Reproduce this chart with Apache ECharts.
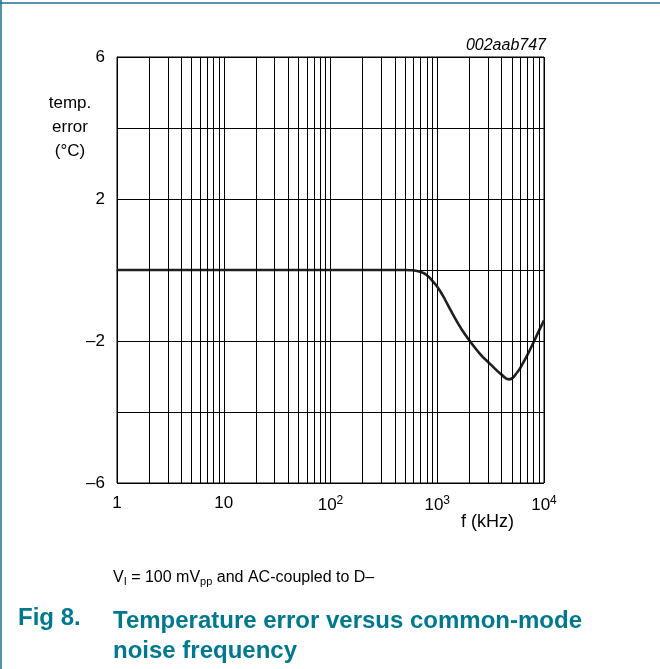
<!DOCTYPE html>
<html>
<head>
<meta charset="utf-8">
<script src="https://cdn.jsdelivr.net/npm/echarts@6/dist/echarts.min.js"></script>
<style>
html,body{margin:0;padding:0;background:#fff;}
#c{width:660px;height:669px;}
</style>
</head>
<body>
<div id="c"></div>
<script>
// Data (frequency in kHz, temperature error in °C)
const freqKHz = [1, 10, 100, 500, 562, 631, 708, 794, 891, 1000, 1122, 1259, 1413, 1585, 1778, 1995, 2512, 3162, 3981, 4700, 5623, 6310, 7079, 7943, 8913, 10000];
const tempErr = [0, 0, 0, 0, -0.005, -0.02, -0.06, -0.14, -0.29, -0.47, -0.71, -0.99, -1.27, -1.53, -1.77, -1.98, -2.36, -2.66, -2.94, -3.08, -2.88, -2.64, -2.36, -2.05, -1.73, -1.42];
const yLabeled = [6, 2, -2, -6];
const xDecades = [1, 10, 100, 1000, 10000];
const xTickLabels = ['1', '10', '10{s|2}', '10{s|3}', '10{s|4}'];
const minorMultipliers = [2, 3, 4, 5, 6, 7, 8, 9];

const FONT = '"Liberation Sans", Arial, sans-serif';
const TEAL = '#00788f';

const minorGrid = [];
for (let d = 0; d < xDecades.length - 1; d++) {
  for (const m of minorMultipliers) minorGrid.push({ xAxis: xDecades[d] * m });
}

const chart = echarts.init(document.getElementById('c'), null, { renderer: 'canvas' });
chart.setOption({
  animation: false,
  backgroundColor: '#fff',
  textStyle: { fontFamily: FONT },
  grid: { left: 117, right: 116, top: 57, bottom: 186, show: true, borderColor: '#000', borderWidth: 1 },
  xAxis: {
    type: 'log', logBase: 10, min: 1, max: 10000,
    axisLine: { show: true, lineStyle: { color: '#000', width: 1 } },
    axisTick: { show: false },
    splitLine: { show: true, lineStyle: { color: '#000', width: 1 } },
    axisLabel: {
      color: '#000', fontSize: 17, fontFamily: FONT, margin: 12,
      formatter: function (v) {
        const i = xDecades.indexOf(Math.round(v));
        return i >= 0 ? xTickLabels[i] : '';
      },
      rich: { s: { fontSize: 12, fontFamily: FONT, color: '#000', verticalAlign: 'top', padding: [0, 0, 9, 0] } }
    }
  },
  yAxis: {
    type: 'value', min: -6, max: 6, interval: 2,
    axisLine: { show: true, lineStyle: { color: '#000', width: 1 } },
    axisTick: { show: false },
    splitLine: { show: true, lineStyle: { color: '#000', width: 1 } },
    axisLabel: {
      color: '#000', fontSize: 17, fontFamily: FONT, margin: 12,
      formatter: function (v) {
        if (yLabeled.indexOf(v) < 0) return '';
        return v < 0 ? '\u2013' + (-v) : String(v);
      }
    }
  },
  series: [{
    type: 'line',
    data: freqKHz.map((f, i) => [f, tempErr[i]]),
    smooth: 0.5,
    showSymbol: false,
    lineStyle: { color: '#231f20', width: 2.6 },
    markLine: {
      silent: true,
      symbol: ['none', 'none'],
      label: { show: false },
      lineStyle: { type: 'solid', color: '#000', width: 1 },
      data: minorGrid
    },
    z: 3
  }],
  graphic: [
    { type: 'line', shape: { x1: 0, y1: 3, x2: 660, y2: 3 }, style: { stroke: '#1b6f8c', lineWidth: 1.5 } },
    { type: 'line', shape: { x1: 1, y1: 0, x2: 1, y2: 669 }, style: { stroke: '#1b6f8c', lineWidth: 1.5 } },
    { type: 'text', x: 70, y: 91, style: { text: 'temp.\nerror\n(\u00b0C)', fill: '#000', font: '17px ' + FONT, align: 'center', lineHeight: 24 } },
    { type: 'text', x: 546, y: 38, style: { text: '002aab747', fill: '#000', font: 'italic 16px ' + FONT, align: 'right' } },
    { type: 'text', x: 461, y: 513, style: { text: 'f (kHz)', fill: '#000', font: '18px ' + FONT } },
    { type: 'text', x: 113, y: 568, style: {
        text: 'V{sub|I} = 100 mV{sub|pp} and AC-coupled to D\u2013', fill: '#000', font: '16px ' + FONT,
        rich: { sub: { fontSize: 11, fontFamily: FONT, fill: '#000', verticalAlign: 'bottom', padding: [8, 0, 0, 0] } }
      } },
    { type: 'text', x: 18, y: 606, style: { text: 'Fig 8.', fill: TEAL, font: 'bold 24px ' + FONT } },
    { type: 'text', x: 113, y: 606, style: { text: 'Temperature error versus common-mode\nnoise frequency', fill: TEAL, font: 'bold 24px ' + FONT, lineHeight: 30 } }
  ]
});
</script>
</body>
</html>
